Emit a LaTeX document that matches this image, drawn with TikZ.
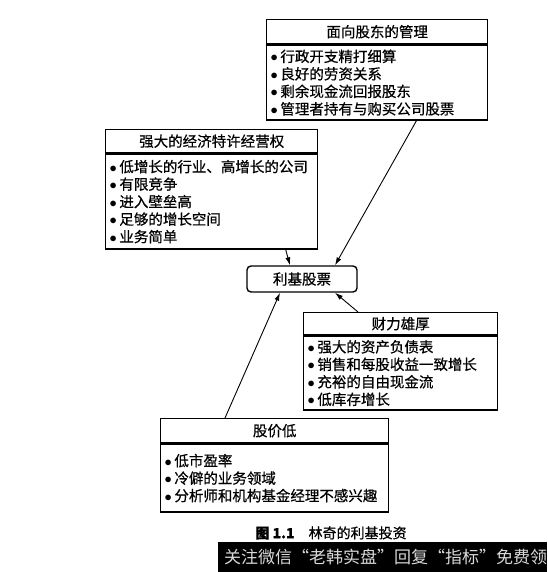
\documentclass[tikz,border=0pt]{standalone}
\usepackage{fontspec}
\newfontfamily\cjk[FakeBold=0.6]{Noto Sans CJK SC}
\newfontfamily\cjklight{Noto Sans CJK SC}
\usetikzlibrary{arrows.meta, positioning, calc}
\newcommand{\dotitem}{$\bullet$\hspace{2.5pt}}
\tikzset{
  every picture/.style={font=\cjk, line width=1.4pt},
  hdr/.style={draw, anchor=north west, inner sep=0pt, minimum width=#1, font=\cjk\fontsize{14.5}{17}\selectfont},
  lst/.style={draw, anchor=north west, align=left, inner xsep=4pt, inner ysep=0pt, text width=#1, font=\cjk\fontsize{14.5}{17.5}\selectfont},
  pick/.style={draw, rounded corners=4pt, minimum width=110pt, minimum height=26pt, inner sep=0pt, font=\cjk\fontsize{14.5}{17}\selectfont},
  arrow/.style={-{Latex[length=8pt,width=5pt]}, line width=0.9pt},
  caption/.style={font=\cjk\fontsize{14}{16}\selectfont},
}

\begin{document}
\begin{tikzpicture}[x=1pt, y=-1pt]
  \useasboundingbox (0,0) rectangle (547,572);
  % centre
  \node[pick] (stock) at (302,279) {利基股票};
  % four boxes round it
  \node[hdr=221pt, minimum height=24pt] (t1) at (266,19) {面向股东的管理};
  \node[lst=213pt, minimum height=75pt] (b1) at (t1.south west)
    {\dotitem 行政开支精打细算\\ \dotitem 良好的劳资关系\\ \dotitem 剩余现金流回报股东\\ \dotitem 管理者持有与购买公司股票};
  \node[hdr=212pt, minimum height=23pt] (t2) at (105,129) {强大的经济特许经营权};
  \node[lst=204pt, minimum height=95pt] (b2) at (t2.south west)
    {\dotitem 低增长的行业、高增长的公司\\ \dotitem 有限竞争\\ \dotitem 进入壁垒高\\ \dotitem 足够的增长空间\\ \dotitem 业务简单};
  \node[hdr=194pt, minimum height=22pt] (t3) at (303,312) {财力雄厚};
  \node[lst=186pt, minimum height=74pt] (b3) at (t3.south west)
    {\dotitem 强大的资产负债表\\ \dotitem 销售和每股收益一致增长\\ \dotitem 充裕的自由现金流\\ \dotitem 低库存增长};
  \node[hdr=228pt, minimum height=24pt] (t4) at (160,418) {股价低};
  \node[lst=220pt, minimum height=68pt] (b4) at (t4.south west)
    {\dotitem 低市盈率\\ \dotitem 冷僻的业务领域\\ \dotitem 分析师和机构基金经理不感兴趣};
  % arrows
  \draw[arrow] ([xshift=-72pt]b1.south east) -- ([xshift=33pt]stock.north);
  \draw[arrow] ([xshift=74pt]b2.south) -- ([xshift=-12pt]stock.north);
  \draw[arrow] ([xshift=55pt]t3.north west) -- ([xshift=33pt]stock.south);
  \draw[arrow] ([xshift=65pt]t4.north west) -- ([xshift=-22pt]stock.south);
  % caption and banner
  \node[caption] (cap) at (331,533) {{\bfseries 图 1.1}\quad 林奇的利基投资};
  \fill (218,542) rectangle (547,572);
  \node[font=\cjklight\fontsize{17}{19}\selectfont, text=white!85!black, anchor=west] (ad) at (220,557) {关注微信“老韩实盘”回复“指标”免费领};
\end{tikzpicture}
\end{document}
